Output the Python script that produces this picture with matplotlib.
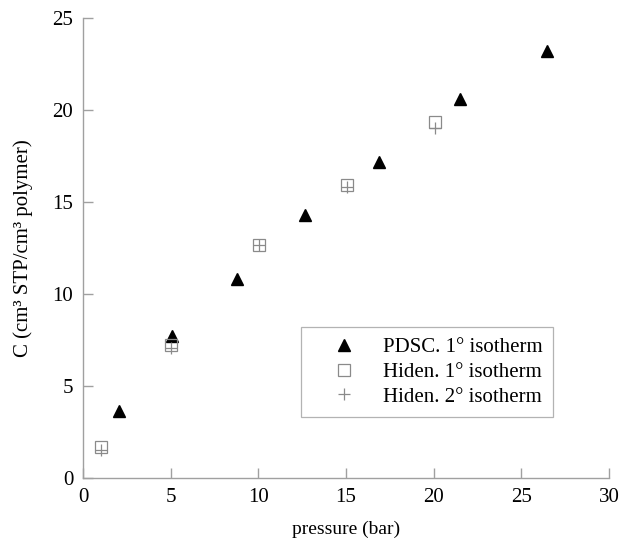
import matplotlib
matplotlib.use("Agg")
import matplotlib.pyplot as plt

plt.rcParams['font.family'] = ['Liberation Serif', 'DejaVu Serif']

# PDSC, first isotherm
pdsc_p = [2.05, 5.1, 8.8, 12.65, 16.9, 21.5, 26.45]
pdsc_c = [3.65, 7.7, 10.8, 14.3, 17.15, 20.6, 23.2]

# Hiden, first and second isotherm
hiden1_p = [1.0, 5.0, 10.05, 15.05, 20.1]
hiden1_c = [1.7, 7.25, 12.65, 15.9, 19.35]
hiden2_p = [1.0, 5.0, 10.05, 15.05, 20.1]
hiden2_c = [1.5, 7.05, 12.65, 15.8, 19.05]

fig = plt.figure(figsize=(6.22, 5.47), dpi=100)
ax = fig.add_axes([0.1334, 0.1261, 0.8456, 0.8409])

ax.plot(pdsc_p, pdsc_c, linestyle='none', marker='^', markersize=8.5,
        color='black', label='PDSC. 1° isotherm')
ax.plot(hiden1_p, hiden1_c, linestyle='none', marker='s', markersize=8,
        markerfacecolor='none', markeredgecolor='#8a8a8a', markeredgewidth=0.9,
        label='Hiden. 1° isotherm')
ax.plot(hiden2_p, hiden2_c, linestyle='none', marker='+', markersize=9,
        color='#8a8a8a', markeredgewidth=0.9, label='Hiden. 2° isotherm')

ax.set_xlim(0, 30)
ax.set_ylim(0, 25)
ax.set_xticks([0, 5, 10, 15, 20, 25, 30])
ax.set_yticks([0, 5, 10, 15, 20, 25])

for side in ['top', 'right']:
    ax.spines[side].set_visible(False)
for side in ['left', 'bottom']:
    ax.spines[side].set_color('#a0a0a0')
    ax.spines[side].set_linewidth(1.0)

ax.tick_params(direction='in', length=7, width=1.0, color='#a0a0a0',
               labelsize=15, pad=7)

ax.set_xlabel('pressure (bar)', fontsize=14, labelpad=10)
ax.set_ylabel('C (cm³ STP/cm³ polymer)', fontsize=15, labelpad=14)

leg = ax.legend(loc='upper left', bbox_to_anchor=(0.414, 0.328), fontsize=15,
                frameon=True, fancybox=False, edgecolor='#a0a0a0',
                handletextpad=0.25, borderpad=0.5, labelspacing=0.25,
                handlelength=3.2, borderaxespad=0)
leg.get_frame().set_linewidth(0.9)

fig.savefig('out.png', dpi=100)
